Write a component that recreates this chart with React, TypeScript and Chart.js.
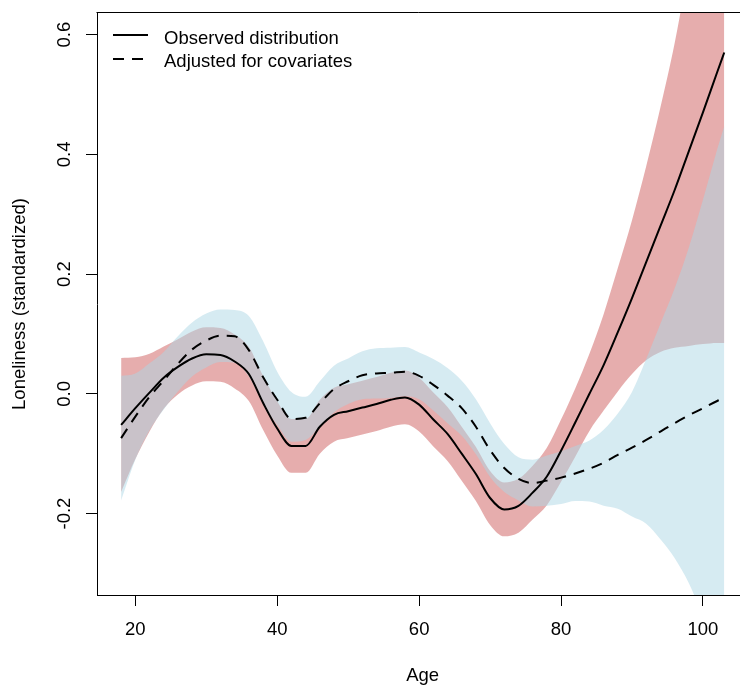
import React, { useEffect, useRef } from "react";
import { Chart, registerables } from "chart.js";

Chart.register(...registerables);

// ---- data ----
const ages = [18, 20, 22, 24, 26, 28, 30, 32, 34, 36, 38, 40, 42, 44, 46, 48, 50, 52, 54, 56, 58, 60, 62, 64, 66, 68, 70, 72, 74, 76, 78, 80, 82, 84, 86, 88, 90, 92, 94, 96, 98, 100, 102, 103];

const observed = [-0.052, -0.024, 0.002, 0.027, 0.045, 0.059, 0.066, 0.065, 0.054, 0.033, -0.015, -0.058, -0.087, -0.087, -0.055, -0.035, -0.029, -0.023, -0.017, -0.010, -0.006, -0.018, -0.043, -0.067, -0.100, -0.134, -0.174, -0.193, -0.187, -0.165, -0.138, -0.095, -0.048, 0.000, 0.048, 0.103, 0.160, 0.220, 0.280, 0.340, 0.405, 0.470, 0.537, 0.570];
const observedLower = [-0.164, -0.109, -0.063, -0.025, -0.001, 0.014, 0.021, 0.020, 0.009, -0.012, -0.060, -0.103, -0.132, -0.132, -0.100, -0.080, -0.074, -0.068, -0.062, -0.055, -0.051, -0.063, -0.088, -0.112, -0.145, -0.179, -0.219, -0.238, -0.232, -0.210, -0.186, -0.147, -0.105, -0.062, -0.028, 0.004, 0.033, 0.056, 0.070, 0.077, 0.080, 0.083, 0.085, 0.085];
const observedUpper = [0.060, 0.061, 0.067, 0.079, 0.091, 0.104, 0.111, 0.110, 0.099, 0.078, 0.030, -0.013, -0.042, -0.042, -0.010, 0.010, 0.016, 0.022, 0.028, 0.035, 0.039, 0.027, 0.002, -0.022, -0.055, -0.089, -0.129, -0.148, -0.142, -0.120, -0.090, -0.043, 0.009, 0.067, 0.133, 0.210, 0.290, 0.380, 0.478, 0.585, 0.715, 0.850, 0.990, 1.060];

const adjusted = [-0.074, -0.038, -0.005, 0.022, 0.050, 0.074, 0.089, 0.097, 0.096, 0.073, 0.028, -0.010, -0.042, -0.040, -0.016, 0.008, 0.021, 0.031, 0.034, 0.035, 0.037, 0.030, 0.015, -0.003, -0.024, -0.055, -0.094, -0.124, -0.142, -0.149, -0.145, -0.140, -0.133, -0.125, -0.115, -0.102, -0.090, -0.077, -0.063, -0.049, -0.036, -0.024, -0.012, -0.007];
const adjustedLower = [-0.178, -0.110, -0.061, -0.026, 0.004, 0.029, 0.044, 0.053, 0.052, 0.029, -0.016, -0.052, -0.080, -0.077, -0.055, -0.031, -0.017, -0.009, -0.008, -0.007, -0.004, -0.009, -0.028, -0.049, -0.070, -0.101, -0.139, -0.164, -0.178, -0.188, -0.187, -0.184, -0.179, -0.180, -0.187, -0.192, -0.205, -0.217, -0.243, -0.274, -0.316, -0.372, -0.432, -0.461];
const adjustedUpper = [0.030, 0.034, 0.051, 0.070, 0.096, 0.119, 0.134, 0.141, 0.140, 0.130, 0.088, 0.037, 0.003, -0.005, 0.021, 0.047, 0.059, 0.071, 0.076, 0.077, 0.078, 0.069, 0.058, 0.043, 0.022, -0.009, -0.049, -0.084, -0.106, -0.110, -0.103, -0.096, -0.087, -0.078, -0.060, -0.033, 0.003, 0.058, 0.117, 0.176, 0.244, 0.324, 0.408, 0.447];

const xTicks = [20, 40, 60, 80, 100];
const yTicks = [-0.2, 0.0, 0.2, 0.4, 0.6];
const yTickLabels = ["-0.2", "0.0", "0.2", "0.4", "0.6"];
const legendLabels = ["Observed distribution", "Adjusted for covariates"];
const xTitle = "Age";
const yTitle = "Loneliness (standardized)";

const X_MIN = 14.6;
const X_MAX = 105.22;
const X_CENTER = 60.5; // centre of the full R plot region (xlim 14.6 .. 106.4)
const Y_MIN = -0.336;
const Y_MAX = 0.636;

const FONT = "'Liberation Sans', Arial, sans-serif";
const FONT_SIZE = 18.5;
const RED_BAND = "rgba(205, 92, 92, 0.5)";
const BLUE_BAND = "rgba(173, 216, 230, 0.5)";
const DASH = [11, 8];

const pts = (arr: number[]) => ages.map((a, i) => ({ x: a, y: arr[i] }));

const overlay = {
  id: "overlay",
  afterDraw(chart: any) {
    const { ctx, chartArea: a, scales } = chart;
    const ys = scales.y;
    const xs = scales.x;
    ctx.save();
    // top border of the plot box
    ctx.strokeStyle = "#000";
    ctx.lineWidth = 1;
    ctx.setLineDash([]);
    ctx.beginPath();
    const ty = Math.round(a.top) - 0.5;
    ctx.moveTo(a.left - 0.5, ty);
    ctx.lineTo(a.right, ty);
    ctx.stroke();

    ctx.fillStyle = "#000";
    ctx.font = `${FONT_SIZE}px ${FONT}`;
    ctx.textAlign = "center";
    ctx.textBaseline = "alphabetic";
    // y tick labels, rotated like R
    yTicks.forEach((v, i) => {
      const py = ys.getPixelForValue(v);
      ctx.save();
      ctx.translate(69.5, py);
      ctx.rotate(-Math.PI / 2);
      ctx.fillText(yTickLabels[i], 0, 0);
      ctx.restore();
    });
    // y title
    ctx.save();
    ctx.translate(25, (a.top + a.bottom) / 2);
    ctx.rotate(-Math.PI / 2);
    ctx.fillText(yTitle, 0, 0);
    ctx.restore();
    // x title
    ctx.fillText(xTitle, xs.getPixelForValue(X_CENTER), 681);

    // legend
    ctx.lineWidth = 2;
    ctx.strokeStyle = "#000";
    ctx.beginPath();
    ctx.moveTo(113, 35);
    ctx.lineTo(148, 35);
    ctx.stroke();
    ctx.setLineDash(DASH);
    ctx.beginPath();
    ctx.moveTo(113, 59);
    ctx.lineTo(148, 59);
    ctx.stroke();
    ctx.setLineDash([]);
    ctx.textAlign = "left";
    ctx.fillText(legendLabels[0], 164, 43.5);
    ctx.fillText(legendLabels[1], 164, 67);
    ctx.restore();
  },
};

export default function App() {
  const ref = useRef<HTMLCanvasElement | null>(null);

  useEffect(() => {
    document.body.style.margin = "0";
    if (!ref.current) return;
    const chart = new Chart(ref.current, {
      type: "line",
      data: {
        datasets: [
          {
            label: legendLabels[0],
            data: pts(observed),
            borderColor: "#000",
            borderWidth: 2,
            fill: false,
            order: 0,
          },
          {
            label: legendLabels[1],
            data: pts(adjusted),
            borderColor: "#000",
            borderWidth: 2,
            borderDash: DASH,
            fill: false,
            order: 1,
          },
          {
            label: "adj upper",
            data: pts(adjustedUpper),
            borderWidth: 0,
            borderColor: "rgba(0,0,0,0)",
            backgroundColor: BLUE_BAND,
            fill: 3,
            order: 2,
          },
          {
            label: "adj lower",
            data: pts(adjustedLower),
            borderWidth: 0,
            borderColor: "rgba(0,0,0,0)",
            fill: false,
            order: 2,
          },
          {
            label: "obs upper",
            data: pts(observedUpper),
            borderWidth: 0,
            borderColor: "rgba(0,0,0,0)",
            backgroundColor: RED_BAND,
            fill: 5,
            order: 3,
          },
          {
            label: "obs lower",
            data: pts(observedLower),
            borderWidth: 0,
            borderColor: "rgba(0,0,0,0)",
            fill: false,
            order: 3,
          },
        ],
      },
      options: {
        animation: false,
        responsive: false,
        devicePixelRatio: 1,
        layout: { padding: { top: 13, left: 0, right: 0, bottom: 0 }, autoPadding: false },
        elements: {
          point: { radius: 0, hoverRadius: 0 },
          line: { cubicInterpolationMode: "monotone" },
        },
        plugins: {
          legend: { display: false },
          tooltip: { enabled: false },
        },
        scales: {
          x: {
            type: "linear",
            min: X_MIN,
            max: X_MAX,
            afterBuildTicks: (s: any) => {
              s.ticks = xTicks.map((v) => ({ value: v }));
            },
            afterFit: (s: any) => {
              s.height = 91;
            },
            grid: { display: true, drawOnChartArea: false, drawTicks: true, tickLength: 11, color: "#000", lineWidth: 1 },
            border: { display: true, color: "#000", width: 1 },
            ticks: {
              font: { family: FONT, size: FONT_SIZE },
              color: "#000",
              padding: 13,
              maxRotation: 0,
              autoSkip: false,
              callback: (v: any) => String(v),
            },
          },
          y: {
            type: "linear",
            min: Y_MIN,
            max: Y_MAX,
            afterBuildTicks: (s: any) => {
              s.ticks = yTicks.map((v) => ({ value: v }));
            },
            afterFit: (s: any) => {
              s.width = 97;
            },
            grid: { display: true, drawOnChartArea: false, drawTicks: true, tickLength: 11, color: "#000", lineWidth: 1 },
            border: { display: true, color: "#000", width: 1 },
            ticks: { display: false },
          },
        },
      } as any,
      plugins: [overlay],
    });
    return () => chart.destroy();
  }, []);

  return (
    <div style={{ position: "absolute", left: 0, top: 0, width: 740, height: 686, background: "#fff" }}>
      <canvas ref={ref} width={740} height={686} style={{ display: "block" }} />
    </div>
  );
}
